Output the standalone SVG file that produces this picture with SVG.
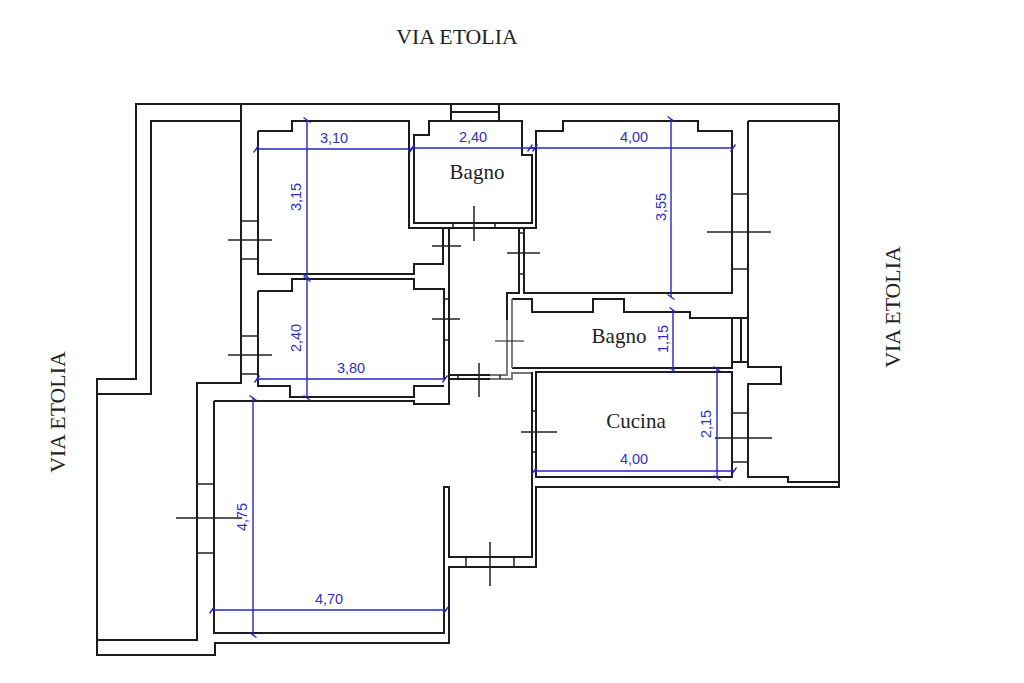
<svg xmlns="http://www.w3.org/2000/svg" width="1024" height="683" viewBox="0 0 1024 683">
<style>
.w{fill:none;stroke:#1c1c1c;stroke-width:2;stroke-linejoin:miter}
.m{fill:none;stroke:#222;stroke-width:1.5}
.g{fill:none;stroke:#777;stroke-width:1.9}
.d{fill:none;stroke:#2424c4;stroke-width:1.4;marker-start:url(#t);marker-end:url(#t)}
.n{font-family:"Liberation Sans",sans-serif;font-size:14.5px;fill:#3030c0;text-anchor:middle}
.l{font-family:"Liberation Serif",serif;fill:#222;text-anchor:middle}
</style>
<defs>
<marker id="t" markerUnits="userSpaceOnUse" markerWidth="12" markerHeight="12" refX="6" refY="6" orient="auto">
<path d="M3.500 9.500 L8.500 2.500" stroke="#2424c4" stroke-width="1.300" fill="none"/>
</marker>
</defs>
<rect width="1024" height="683" fill="#fff"/>
<g id="outer-walls">
<path class="w" d="M136 104H839V487H536V567H449V643H215V655H97V379H136Z"/>
<path class="w" d="M97 394H151V121H241M241 104V383H197V640H97"/>
<path class="w" d="M214 401V633H444V487H449V557H532V372"/>
<path class="w" d="M214 401H414V404H449V228"/>
<path class="w" d="M748 121H839M748 121V367H781V384H748V477H788V482H839"/>
</g>
<g id="rooms">
<path class="w" d="M258 131H292V121H409V228H536V131H563V121H698V131H732V293H524V228"/>
<path class="w" d="M258 131V274H414V264H443V228"/>
<path class="w" d="M414 135H429V121H522V155H532V223H414Z"/>
<path class="w" d="M258 291H292V279H414V289H444V379M258 291V386H290V397H414V386H444"/>
<path class="w" d="M519 228V293H507V320"/>
<path class="w" d="M448 375H490M448 379H490"/>
<path class="w" d="M512 299H532V312H593V299H624V312H690V318H748M732 318V362H748M741 318V362M732 362V368H512"/>
<path class="w" d="M536 372H732V477H536Z"/>
<path class="g" d="M507 320V375H490M490 379H512V373H531M512 299V368"/>
</g>
<g id="windows-doors">
<path class="w" d="M451 104V121M499 104V121M451 112H499"/>
<path class="m" d="M241 221H258M241 259H258M228 240H272"/>
<path class="m" d="M241 336H258M241 374H258M228 355H272"/>
<path class="m" d="M432 246H461M432 319H460M444 299H449M444 340H449"/>
<path class="m" d="M474 206V241M453 223V228M495 223V228"/>
<path class="m" d="M507 253H540M519 233H524M519 274H524"/>
<path class="m" d="M732 194H748M732 269H748M707 232H771"/>
<path class="m" d="M495 341H524" opacity="0.7"/>
<path class="m" d="M479 363V397M458 375V379M500 375V379"/>
<path class="m" d="M521 432H557M532 411H536M532 452H536"/>
<path class="m" d="M732 413H748M732 462H748M715 438H772"/>
<path class="m" d="M197 484H214M197 553H214M176 518H242"/>
<path class="m" d="M490 542V586M466 557V567M514 557V567"/>
</g>
<g id="dimensions">
<path class="d" d="M256 149H412"/>
<path class="d" d="M307 120V277"/>
<path class="d" d="M412 148H535"/>
<path class="d" d="M530 148H733"/>
<path class="d" d="M671 119V297"/>
<path class="d" d="M307 279V398"/>
<path class="d" d="M257 379H445"/>
<path class="d" d="M673 310V370"/>
<path class="d" d="M717 369V478"/>
<path class="d" d="M534 471H734"/>
<path class="d" d="M253 398V635"/>
<path class="d" d="M212 610H446"/>
<text class="n" x="334" y="143">3,10</text>
<text class="n" x="473" y="142">2,40</text>
<text class="n" x="634" y="142">4,00</text>
<text class="n" x="351" y="373">3,80</text>
<text class="n" x="634" y="464">4,00</text>
<text class="n" x="329" y="604">4,70</text>
<text class="n" transform="translate(301 197) rotate(-90)">3,15</text>
<text class="n" transform="translate(301 338) rotate(-90)">2,40</text>
<text class="n" transform="translate(666 207) rotate(-90)">3,55</text>
<text class="n" transform="translate(668 339) rotate(-90)">1,15</text>
<text class="n" transform="translate(711 424) rotate(-90)">2,15</text>
<text class="n" transform="translate(247 517) rotate(-90)">4,75</text>
</g>
<g id="labels">
<text class="l" x="477" y="179" font-size="21">Bagno</text>
<text class="l" x="619" y="343" font-size="21">Bagno</text>
<text class="l" x="636" y="428" font-size="21">Cucina</text>
<text class="l" x="457" y="44" font-size="21.800">VIA ETOLIA</text>
<text class="l" font-size="21.800" transform="translate(900 307) rotate(-90)">VIA ETOLIA</text>
<text class="l" font-size="21.800" transform="translate(65 412) rotate(-90)">VIA ETOLIA</text>
</g>
</svg>
